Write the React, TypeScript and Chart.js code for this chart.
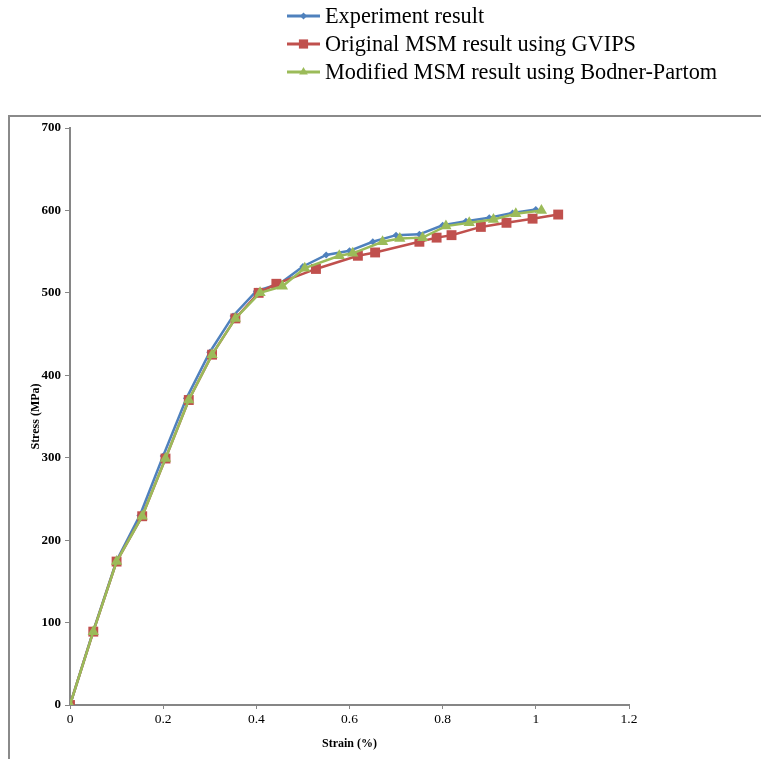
import React, { useEffect, useRef } from "react";
import { Chart, registerables } from "chart.js";

Chart.register(...registerables);

// ---- Data ----
const seriesNames = [
  "Experiment result",
  "Original MSM result using GVIPS",
  "Modified MSM result using Bodner-Partom",
];

const expStrain = [0, 0.05, 0.1, 0.15, 0.2, 0.25, 0.3, 0.35, 0.4, 0.45, 0.5, 0.55, 0.6, 0.65, 0.7, 0.75, 0.8, 0.85, 0.9, 0.95, 1.0];
const expStress = [0, 90, 175, 230, 302, 372, 428, 472, 502, 511, 532, 546, 551, 562, 570, 571, 582, 587, 591, 597, 601];

const gvipsStrain = [0, 0.05, 0.1, 0.155, 0.205, 0.255, 0.305, 0.355, 0.405, 0.443, 0.528, 0.618, 0.655, 0.75, 0.787, 0.819, 0.882, 0.937, 0.993, 1.048];
const gvipsStress = [0, 89, 174, 229, 299, 370, 425, 469, 500, 511, 529, 545, 549, 562, 567, 570, 580, 585, 590, 595];

const bpStrain = [0, 0.05, 0.1, 0.155, 0.205, 0.255, 0.305, 0.355, 0.408, 0.456, 0.504, 0.578, 0.607, 0.671, 0.708, 0.757, 0.807, 0.857, 0.909, 0.957, 1.012];
const bpStress = [0, 89, 174, 229, 299, 370, 425, 469, 500, 508, 530, 545, 548, 562, 566, 567, 581, 585, 589, 596, 600];

const xMin = 0;
const xMax = 1.2;
const xStep = 0.2;
const yMin = 0;
const yMax = 700;
const yStep = 100;

const xTitle = "Strain (%)";
const yTitle = "Stress (MPa)";

const COLORS = ["#4f81bd", "#c0504d", "#9bbb59"];
const STYLES = ["rectRot", "rect", "triangle"];
const RADII = [3.5, 7, 6.5];

const SERIF = '"Liberation Serif", "Times New Roman", serif';
const AXIS_GRAY = "#868686";

function pts(xs: number[], ys: number[]) {
  return xs.map((x, i) => ({ x, y: ys[i] }));
}

function drawMarker(ctx: CanvasRenderingContext2D, style: string, x: number, y: number, r: number, color: string) {
  ctx.save();
  ctx.fillStyle = color;
  ctx.beginPath();
  if (style === "rect") {
    const s = Math.SQRT1_2 * r;
    ctx.rect(x - s, y - s, 2 * s, 2 * s);
  } else if (style === "rectRot") {
    ctx.moveTo(x, y - r);
    ctx.lineTo(x + r, y);
    ctx.lineTo(x, y + r);
    ctx.lineTo(x - r, y);
    ctx.closePath();
  } else {
    const h = r * 1.5;
    const w = r * Math.sqrt(3) / 2;
    ctx.moveTo(x, y - r);
    ctx.lineTo(x + w, y - r + h);
    ctx.lineTo(x - w, y - r + h);
    ctx.closePath();
  }
  ctx.fill();
  ctx.restore();
}

export default function App() {
  const ref = useRef<HTMLCanvasElement>(null);

  useEffect(() => {
    const canvas = ref.current;
    if (!canvas) return;

    const framePlugin = {
      id: "frame",
      beforeDraw(chart: any) {
        const ctx = chart.ctx as CanvasRenderingContext2D;
        ctx.save();
        ctx.fillStyle = "#ffffff";
        ctx.fillRect(0, 0, chart.width, chart.height);
        ctx.strokeStyle = "#8a8a8a";
        ctx.lineWidth = 2;
        ctx.strokeRect(9, 116, 900, 900);
        ctx.restore();
      },
    };

    const legendPlugin = {
      id: "lineLegend",
      afterDraw(chart: any) {
        const ctx = chart.ctx as CanvasRenderingContext2D;
        ctx.save();
        chart.data.datasets.forEach((ds: any, i: number) => {
          const y = 16 + i * 28;
          ctx.strokeStyle = ds.borderColor;
          ctx.lineWidth = 3;
          ctx.beginPath();
          ctx.moveTo(287, y);
          ctx.lineTo(320, y);
          ctx.stroke();
          drawMarker(ctx, STYLES[i], 303.5, y, i === 0 ? 3.5 : i === 1 ? 6.5 : 5, ds.borderColor);
          ctx.fillStyle = "#000";
          ctx.font = `22.3px ${SERIF}`;
          ctx.textBaseline = "middle";
          ctx.textAlign = "left";
          ctx.fillText(ds.label, 325, y + 1);
        });
        ctx.restore();
      },
    };

    const allData = [
      pts(expStrain, expStress),
      pts(gvipsStrain, gvipsStress),
      pts(bpStrain, bpStress),
    ];

    const chart = new Chart(canvas, {
      type: "line",
      data: {
        datasets: allData.map((d, i) => ({
          label: seriesNames[i],
          data: d,
          borderColor: COLORS[i],
          backgroundColor: COLORS[i],
          borderWidth: 2.5,
          pointStyle: STYLES[i] as any,
          pointRadius: RADII[i],
          pointBorderWidth: 0,
          pointBackgroundColor: COLORS[i],
          pointBorderColor: COLORS[i],
          tension: 0,
          fill: false,
          order: 3 - i,
        })),
      },
      options: {
        animation: false,
        responsive: false,
        devicePixelRatio: 1,
        layout: { padding: { left: 29, right: 132, top: 128, bottom: 8 } },
        plugins: {
          legend: { display: false },
          tooltip: { enabled: false },
        },
        scales: {
          x: {
            type: "linear",
            min: xMin,
            max: xMax,
            ticks: {
              stepSize: xStep,
              color: "#000",
              font: { family: SERIF, size: 13.5 },
              padding: 2,
              maxRotation: 0,
              callback: (v: any) => String(Number(Number(v).toFixed(2))),
            },
            grid: {
              drawOnChartArea: false,
              drawTicks: true,
              tickLength: 4,
              color: AXIS_GRAY,
            },
            border: { color: AXIS_GRAY, width: 2 },
            title: {
              display: true,
              text: xTitle,
              color: "#000",
              font: { family: SERIF, size: 12, weight: "bold" },
              padding: { top: 4, bottom: 0 },
            },
            afterFit: (scale: any) => {
              scale.height = 46;
            },
          },
          y: {
            type: "linear",
            min: yMin,
            max: yMax,
            ticks: {
              stepSize: yStep,
              color: "#000",
              font: { family: SERIF, size: 13, weight: "bold" },
              padding: 4,
            },
            grid: {
              drawOnChartArea: false,
              drawTicks: true,
              tickLength: 5,
              color: AXIS_GRAY,
            },
            border: { color: AXIS_GRAY, width: 2 },
            title: {
              display: true,
              text: yTitle,
              color: "#000",
              font: { family: SERIF, size: 12, weight: "bold" },
              padding: { top: 0, bottom: 0 },
            },
            afterFit: (scale: any) => {
              scale.width = 41;
            },
          },
        },
      },
      plugins: [framePlugin, legendPlugin],
    });

    return () => chart.destroy();
  }, []);

  return (
    <div style={{ position: "absolute", left: 0, top: 0, width: 761, height: 759, background: "#fff" }}>
      <canvas ref={ref} width={761} height={759} style={{ display: "block", width: 761, height: 759 }} />
    </div>
  );
}
